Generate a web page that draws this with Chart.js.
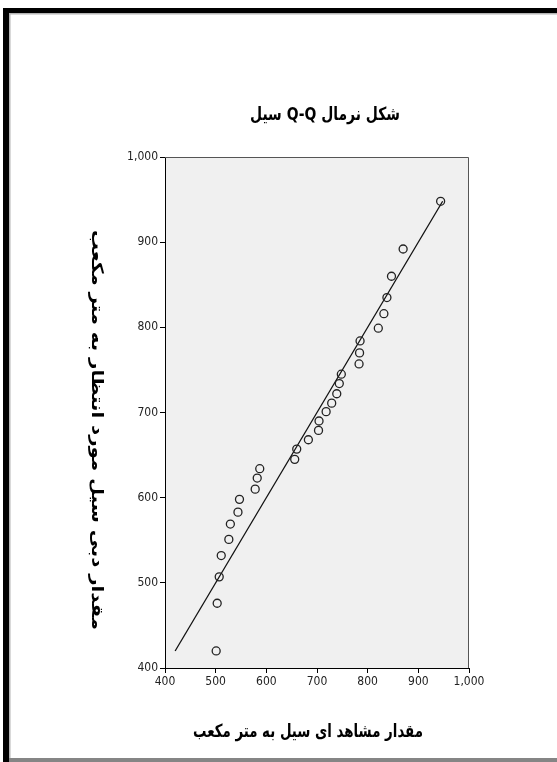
<!DOCTYPE html>
<html>
<head>
<meta charset="utf-8">
<script src="https://cdn.jsdelivr.net/npm/chart.js@4.4.1/dist/chart.umd.min.js"></script>
<style>
  html, body { margin: 0; padding: 0; background: #fff; }
  #wrap { position: relative; width: 557px; height: 762px; }
</style>
</head>
<body>
<div id="wrap"><canvas id="qq" width="557" height="762"></canvas></div>
<script>
// Observed flood discharge (m³) and the matching expected normal quantiles
const observed = [501, 503, 507, 511, 526, 529, 544, 547, 578, 582, 587, 656, 660, 683, 703,
                  704, 718, 729, 739, 744, 748, 783, 784, 785, 821, 832, 838, 847, 870, 944];
const expected = [420, 476, 507, 532, 551, 569, 583, 598, 610, 623, 634, 645, 657, 668, 679,
                  690, 701, 711, 722, 734, 745, 757, 770, 784, 799, 816, 835, 860, 892, 948];

const axisTicks = [400, 500, 600, 700, 800, 900, 1000];

const chartTitle = 'شکل نرمال Q-Q سیل';
const xTitle = 'مقدار مشاهد ای سیل به متر مکعب';
const yTitle = 'مقدار دبی سیل مورد انتظار به متر مکعب';

const points = observed.map((v, i) => ({ x: v, y: expected[i] }));
const lo = Math.min(...expected), hi = Math.max(...expected);
const refLine = [{ x: lo, y: lo }, { x: hi, y: hi }];

const tickFont = { family: "'Liberation Sans Narrow', 'DejaVu Sans Condensed', sans-serif", size: 12 };
const arabicFont = "'DejaVu Sans', sans-serif";

// Draws a bold label centred at (x, y), squeezed horizontally to the given width
function drawLabel(ctx, text, x, y, width, size, angle) {
  ctx.save();
  ctx.font = 'bold ' + size + 'px ' + arabicFont;
  ctx.direction = 'rtl';
  ctx.textAlign = 'center';
  ctx.textBaseline = 'middle';
  ctx.fillStyle = '#000';
  const w = ctx.measureText(text).width;
  ctx.translate(x, y);
  if (angle) ctx.rotate(angle);
  ctx.scale(width / w, 1);
  ctx.fillText(text, 0, 0);
  ctx.restore();
}

const frame = {
  id: 'frame',
  beforeDraw(chart) {
    const { ctx, chartArea: a, width, height } = chart;
    ctx.save();
    ctx.fillStyle = '#ffffff';
    ctx.fillRect(0, 0, width, height);
    // outer picture frame
    ctx.fillStyle = '#000';
    ctx.fillRect(3, 8, width - 3, 5);
    ctx.fillRect(3, 8, 6, height - 8);
    ctx.fillStyle = '#b4b4b4';
    ctx.fillRect(9, 13, width - 9, 1.5);
    ctx.fillRect(9, 13, 1.5, height - 13);
    ctx.fillStyle = '#858585';
    ctx.fillRect(9, 758, width - 9, 4);
    // plot background
    ctx.fillStyle = '#f0f0f0';
    ctx.fillRect(a.left, a.top, a.right - a.left, a.bottom - a.top);
    ctx.restore();
  },
  afterDraw(chart) {
    const { ctx, chartArea: a } = chart;
    ctx.save();
    ctx.strokeStyle = '#555';
    ctx.lineWidth = 1;
    ctx.beginPath();
    ctx.moveTo(a.left, a.top + 0.5);
    ctx.lineTo(a.right - 0.5, a.top + 0.5);
    ctx.lineTo(a.right - 0.5, a.bottom);
    ctx.stroke();
    ctx.restore();

    drawLabel(ctx, chartTitle, 325, 115, 150, 18, 0);
    drawLabel(ctx, xTitle, 308, 732, 230, 18, 0);
    drawLabel(ctx, yTitle, 96, 430, 400, 16, Math.PI / 2);
  }
};

new Chart(document.getElementById('qq'), {
  type: 'scatter',
  data: {
    datasets: [
      {
        data: points,
        pointStyle: 'circle',
        pointRadius: 4,
        pointBorderWidth: 1.3,
        pointBackgroundColor: 'rgba(0,0,0,0)',
        pointBorderColor: '#222',
        order: 1
      },
      {
        data: refLine,
        showLine: true,
        pointRadius: 0,
        borderColor: '#111',
        borderWidth: 1.3,
        order: 2
      }
    ]
  },
  options: {
    responsive: false,
    animation: false,
    devicePixelRatio: 1,
    layout: { padding: { left: 120, top: 157, right: 88, bottom: 69 } },
    plugins: { legend: { display: false }, tooltip: { enabled: false }, title: { display: false } },
    scales: {
      x: {
        type: 'linear',
        min: axisTicks[0],
        max: axisTicks[axisTicks.length - 1],
        afterBuildTicks(s) { s.ticks = axisTicks.map(v => ({ value: v })); },
        ticks: { color: '#222', font: tickFont, padding: 2, maxRotation: 0 },
        grid: { drawOnChartArea: false, tickLength: 5, color: '#000' },
        border: { color: '#000', width: 1 },
        afterFit(s) { s.height = 25; }
      },
      y: {
        type: 'linear',
        min: axisTicks[0],
        max: axisTicks[axisTicks.length - 1],
        afterBuildTicks(s) { s.ticks = axisTicks.map(v => ({ value: v })); },
        ticks: { color: '#222', font: tickFont, padding: 2 },
        grid: { drawOnChartArea: false, tickLength: 5, color: '#000' },
        border: { color: '#000', width: 1 },
        afterFit(s) { s.width = 45; }
      }
    }
  },
  plugins: [frame]
});
</script>
</body>
</html>
